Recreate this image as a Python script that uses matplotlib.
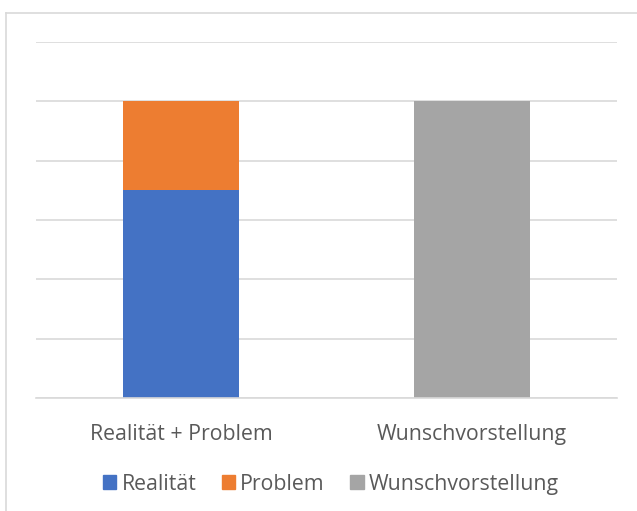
import matplotlib.pyplot as plt
from matplotlib.lines import Line2D
from matplotlib.patches import Patch

categories = ['Realität + Problem', 'Wunschvorstellung']
realitaet = [3.5, 0]
problem = [1.5, 0]
wunsch = [0, 5]

colors = {'Realität': '#4472C4', 'Problem': '#ED7D31', 'Wunschvorstellung': '#A5A5A5'}
text_color = '#595959'
plt.rcParams['font.family'] = ['Open Sans', 'DejaVu Sans']

W, H = 637, 511
fig = plt.figure(figsize=(W / 100, H / 100), dpi=100)
ax = fig.add_axes([36 / W, (H - 398) / H, (617 - 36) / W, (398 - 42) / H])

x = range(len(categories))
ax.bar(x, realitaet, width=0.4, color=colors['Realität'], zorder=2)
ax.bar(x, problem, width=0.4, bottom=realitaet, color=colors['Problem'], zorder=2)
ax.bar(x, wunsch, width=0.4, color=colors['Wunschvorstellung'], zorder=2)

ax.set_xlim(-0.5, 1.5)
ax.set_ylim(0, 6)
ax.set_yticks(range(0, 7))
ax.yaxis.grid(True, color='#d9d9d9', linewidth=1.2, zorder=0)
ax.tick_params(left=False, bottom=False, labelleft=False)
ax.set_xticks(list(x))
ax.set_xticklabels(categories, fontsize=15.3, color=text_color)
ax.tick_params(axis='x', pad=15.5)
for s in ['top', 'right', 'left']:
    ax.spines[s].set_visible(False)
ax.spines['bottom'].set_color('#d9d9d9')
ax.spines['bottom'].set_linewidth(1.2)

handles = [Patch(color=c, label=k) for k, c in colors.items()]
fig.legend(handles=handles, loc='center', bbox_to_anchor=(331 / W, (H - 484) / H),
           ncol=3, frameon=False, handlelength=0.62, handleheight=0.62,
           handletextpad=0.25, columnspacing=1.2, fontsize=15.3,
           labelcolor=text_color)

# chart area border (top and left visible)
fig.add_artist(Line2D([6.5 / W, 1], [1 - 13.5 / H] * 2, color='#d9d9d9', linewidth=1.2))
fig.add_artist(Line2D([6.5 / W] * 2, [0, 1 - 13.5 / H], color='#d9d9d9', linewidth=1.2))

fig.savefig('out.png', dpi=100)
